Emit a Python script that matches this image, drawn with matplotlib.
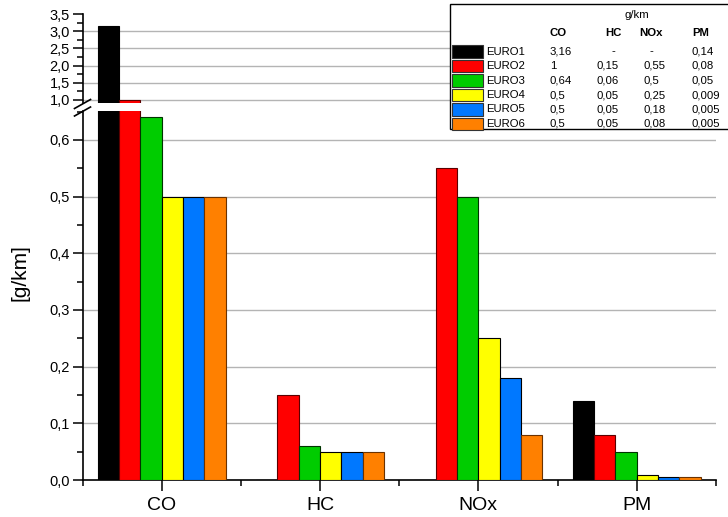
import matplotlib
matplotlib.use("Agg")
import matplotlib.pyplot as plt
from matplotlib.ticker import MultipleLocator, FuncFormatter
from matplotlib.patches import Rectangle
from matplotlib.lines import Line2D
import numpy as np

plt.rcParams['font.family'] = ['Liberation Sans', 'DejaVu Sans']

# Emission limits per pollutant (g/km); None = no limit defined
pollutants = ["CO", "HC", "NOx", "PM"]
standards = ["EURO1", "EURO2", "EURO3", "EURO4", "EURO5", "EURO6"]
co = [3.16, 1, 0.64, 0.5, 0.5, 0.5]
hc = [None, 0.15, 0.06, 0.05, 0.05, 0.05]
nox = [None, 0.55, 0.5, 0.25, 0.18, 0.08]
pm = [0.14, 0.08, 0.05, 0.009, 0.005, 0.005]
colors = ["#000000", "#ff0000", "#00cc00", "#ffff00", "#0078ff", "#ff8000"]
edges = ["#000000", "#5a0000", "#003300", "#000000", "#000000", "#6b3200"]

values = [co, hc, nox, pm]

W, H = 728, 517
fig = plt.figure(figsize=(W / 100, H / 100), dpi=100)

def fx(px):
    return px / W

def fy(py):
    return 1 - py / H

left, right = 82.5, 715.9
ax_lo = fig.add_axes([fx(left), fy(480), fx(right) - fx(left), fy(111) - fy(480)])
ax_hi = fig.add_axes([fx(left), fy(103.4), fx(right) - fx(left), fy(14) - fy(103.4)])

x = np.arange(len(pollutants))
group_w = 0.808
bw = group_w / len(standards)

for ax in (ax_lo, ax_hi):
    for i, std in enumerate(standards):
        heights = [values[p][i] if values[p][i] is not None else 0 for p in range(len(pollutants))]
        offs = -group_w / 2 + bw * (i + 0.5)
        ax.bar(x + offs, heights, width=bw, color=colors[i], edgecolor=edges[i],
               linewidth=0.8, zorder=3)
    ax.set_xlim(-0.5, 3.5)
    for s in ("top", "right"):
        ax.spines[s].set_visible(False)
    ax.spines["left"].set_linewidth(1.2)
    ax.spines["bottom"].set_linewidth(1.2)
    ax.tick_params(axis="y", which="major", direction="out", length=7, width=1.1,
                   labelsize=10.5, pad=2)
    ax.tick_params(axis="y", which="minor", direction="out", length=4, width=1.1)
    ax.yaxis.set_major_formatter(FuncFormatter(lambda v, p: f"{v:.1f}".replace(".", ",")))

ax_lo.set_ylim(0, 0.651)
ax_lo.yaxis.set_major_locator(MultipleLocator(0.1))
ax_lo.yaxis.set_minor_locator(MultipleLocator(0.05))
for g in np.arange(0.1, 0.65, 0.1):
    ax_lo.axhline(g, color="#b4b4b4", lw=1, zorder=1)

ax_hi.set_ylim(0.9, 3.5)
ax_hi.yaxis.set_major_locator(MultipleLocator(0.5))
ax_hi.yaxis.set_minor_locator(MultipleLocator(0.25))
for g in np.arange(1.0, 3.4, 0.5):
    ax_hi.axhline(g, color="#b4b4b4", lw=1, zorder=1)
ax_hi.spines["bottom"].set_visible(False)
ax_hi.set_xticks([])

ax_lo.set_xticks(x)
ax_lo.set_xticklabels(pollutants, fontsize=14)
ax_lo.set_xticks(np.arange(-0.5, 3.6, 1.0), minor=True)
ax_lo.tick_params(axis="x", which="major", direction="out", length=8, width=1.1, pad=4)
ax_lo.tick_params(axis="x", which="minor", direction="out", length=4, width=1.1)

fig.text(fx(20), fy(273), "[g/km]", rotation=90, fontsize=15, ha="center", va="center")

# axis break marks
for yb in (104, 111.5):
    fig.add_artist(Line2D([fx(left - 8), fx(left + 8)], [fy(yb + 4.5), fy(yb - 4.5)],
                          transform=fig.transFigure, color="black", lw=1.2))

# legend table
fig.add_artist(Rectangle((fx(449.5), fy(129)), fx(740) - fx(449.5), fy(4) - fy(129),
                         transform=fig.transFigure, facecolor="white", edgecolor="black",
                         lw=1.0, zorder=5))
fs = 8.2
fig.text(fx(637), fy(15), "g/km", fontsize=fs, ha="center", va="center", zorder=6)
col_x = [558, 613, 651, 701]
for cx, name in zip(col_x, pollutants):
    fig.text(fx(cx), fy(33), name, fontsize=fs, fontweight="bold", ha="center",
             va="center", zorder=6)
val_x = [550, 596.5, 644, 691.5]
row0, dy = 51.5, 14.5
for i, std in enumerate(standards):
    yc = row0 + i * dy
    fig.add_artist(Rectangle((fx(452), fy(yc + 6.3)), fx(482.5) - fx(452), fy(yc - 6.3) - fy(yc + 6.3),
                             transform=fig.transFigure, facecolor=colors[i],
                             edgecolor="#333333", lw=0.8, zorder=6))
    fig.text(fx(486.5), fy(yc), std, fontsize=fs, ha="left", va="center", zorder=6)
    for p in range(len(pollutants)):
        v = values[p][i]
        if v is None:
            fig.text(fx(col_x[p]), fy(yc), "-", fontsize=fs, ha="center", va="center", zorder=6)
        else:
            fig.text(fx(val_x[p]), fy(yc), f"{v:g}".replace(".", ","), fontsize=fs,
                     ha="left", va="center", zorder=6)

fig.savefig("out.png", dpi=100)
